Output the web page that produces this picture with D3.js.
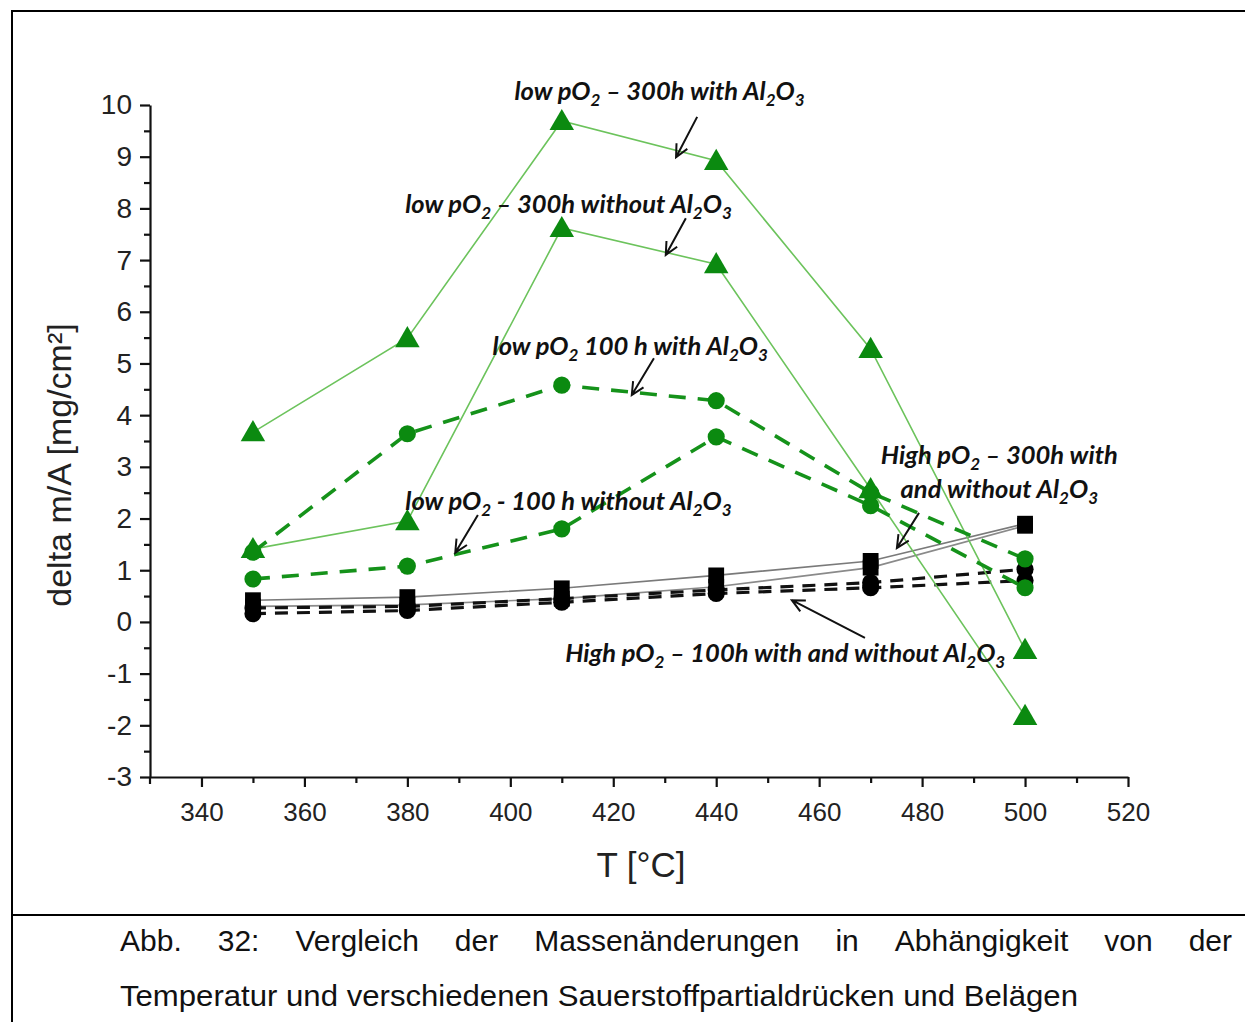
<!DOCTYPE html>
<html>
<head>
<meta charset="UTF-8">
<style>
  body { margin: 0; background: #fff; }
  svg { display: block; }
</style>
</head>
<body>
<svg></svg>
<script src="https://cdn.jsdelivr.net/npm/d3@7"></script>
<script>

let width = 1245, height = 1022;

// data
let temps = [350, 380, 410, 440, 470, 500];
let low300With     = [3.67, 5.49, 9.69, 8.92, 5.28, -0.54];
let low300Without  = [1.41, 1.95, 7.62, 6.92, 2.57, -1.82];
let low100With     = [1.35, 3.64, 4.58, 4.28, 2.50, 1.22];
let low100Without  = [0.83, 1.08, 1.80, 3.58, 2.25, 0.66];
let high300With    = [0.42, 0.48, 0.65, 0.90, 1.18, 1.90];
let high300Without = [0.30, 0.33, 0.45, 0.68, 1.05, 1.86];
let high100With    = [0.27, 0.30, 0.45, 0.62, 0.76, 1.02];
let high100Without = [0.16, 0.22, 0.38, 0.55, 0.66, 0.80];

let xTicks = [340, 360, 380, 400, 420, 440, 460, 480, 500, 520];
let yTicks = [-3, -2, -1, 0, 1, 2, 3, 4, 5, 6, 7, 8, 9, 10];

// annotations: [label lines, center T, baseline value, arrow from, arrow to]
let notes = [
  [["low pO_2 – 300h with Al_2O_3"], 429.0, 10.10, [436.3, 9.77], [432.2, 8.99]],
  [["low pO_2 – 300h without Al_2O_3"], 411.3, 7.91, [434.1, 7.81], [430.2, 7.10]],
  [["low pO_2 100 h with Al_2O_3"], 423.3, 5.16, [427.9, 5.10], [423.6, 4.39]],
  [["low pO_2 - 100 h without Al_2O_3"], 411.3, 2.16, [393.7, 2.07], [389.3, 1.34]],
  [["High pO_2 – 300h with", "and without Al_2O_3"], 495.0, 3.05, [479.4, 2.11], [475.1, 1.43]],
  [["High pO_2 – 100h with and without Al_2O_3"], 453.4, -0.78, [468.9, -0.31], [454.7, 0.42]]
];

let caption1 = "Abb. 32: Vergleich der Massenänderungen in Abhängigkeit von der";
let caption2 = "Temperatur und verschiedenen Sauerstoffpartialdrücken und Belägen";

let svg = d3.select("svg")
    .attr("width", width)
    .attr("height", height)
    .style("font-family", "'Liberation Sans', Arial, sans-serif");

svg.append("rect").attr("width", width).attr("height", height).attr("fill", "#fff");

// frame around figure + caption separator
svg.append("path")
    .attr("d", "M1245,11 L12,11 L12,1022 M12,915 L1245,915")
    .attr("fill", "none").attr("stroke", "#000").attr("stroke-width", 2);

let x = d3.scaleLinear().domain([330, 520]).range([150, 1128]);
let y = d3.scaleLinear().domain([-3, 10]).range([777, 105]);

// axes
let xAxis = svg.append("g").attr("transform", "translate(0,777)");
xAxis.call(d3.axisBottom(x).tickValues(xTicks).tickSize(10).tickPadding(16).tickSizeOuter(0));
xAxis.append("g").call(d3.axisBottom(x).tickValues(d3.range(350, 520, 20)).tickSize(6).tickFormat(""))
    .select(".domain").remove();
xAxis.selectAll("text").attr("font-size", 26).attr("fill", "#222").attr("font-family", "'Liberation Sans', Arial, sans-serif");

let yAxis = svg.append("g").attr("transform", "translate(150,0)");
yAxis.call(d3.axisLeft(y).tickValues(yTicks).tickSize(10).tickPadding(8).tickSizeOuter(0)
    .tickFormat(d => String(d)));
yAxis.append("g").call(d3.axisLeft(y).tickValues(d3.range(-2.5, 10, 1)).tickSize(6).tickFormat(""))
    .select(".domain").remove();
yAxis.selectAll("text").attr("font-size", 28).attr("fill", "#222").attr("font-family", "'Liberation Sans', Arial, sans-serif");
svg.selectAll(".domain, .tick line").attr("stroke", "#111").attr("stroke-width", 2.2);
// y axis line pokes a bit below the x axis
svg.append("line").attr("x1", 150).attr("x2", 150).attr("y1", 777).attr("y2", 784)
    .attr("stroke", "#111").attr("stroke-width", 2.2);

svg.append("text")
    .attr("transform", "translate(71,465) rotate(-90)")
    .attr("text-anchor", "middle")
    .attr("font-size", 34).attr("fill", "#222")
    .text("delta m/A [mg/cm²]");

svg.append("text")
    .attr("x", 641).attr("y", 877)
    .attr("text-anchor", "middle")
    .attr("font-size", 35).attr("fill", "#222")
    .text("T [°C]");

// series
let lineGen = d3.line().x((d, i) => x(temps[i])).y(d => y(d));
let plot = svg.append("g");

function drawLine(vals, color, w, dash) {
  plot.append("path")
      .attr("d", lineGen(vals))
      .attr("fill", "none")
      .attr("stroke", color)
      .attr("stroke-width", w)
      .attr("stroke-dasharray", dash || null);
}

function drawMarkers(vals, type, color) {
  let sym = { circle: d3.symbolCircle, square: d3.symbolSquare, triangle: d3.symbolTriangle }[type];
  let size = { circle: 230, square: 250, triangle: 260 }[type];
  plot.append("g").selectAll("path")
      .data(vals)
      .enter()
      .append("path")
      .attr("transform", (d, i) => "translate(" + x(temps[i]) + "," + (y(d) + (type == "triangle" ? 2 : 0)) + ")")
      .attr("d", d3.symbol().type(sym).size(size))
      .attr("fill", color);
}

// high pO2 (black)
drawLine(high300With, "#7a7a7a", 1.6);
drawLine(high300Without, "#8a8a8a", 1.6);
drawLine(high100With, "#111", 3.2, "13,9");
drawLine(high100Without, "#111", 3.2, "13,9");
drawMarkers(high100Without, "circle", "#000");
drawMarkers(high100With, "circle", "#000");
drawMarkers(high300Without, "square", "#000");
drawMarkers(high300With, "square", "#000");

// low pO2 (green)
drawLine(low300With, "#6cc35c", 1.6);
drawLine(low300Without, "#6cc35c", 1.6);
drawLine(low100With, "#15921a", 3.6, "17,12");
drawLine(low100Without, "#15921a", 3.6, "17,12");
drawMarkers(low100With, "circle", "#0b8a10");
drawMarkers(low100Without, "circle", "#0b8a10");
drawMarkers(low300Without, "triangle", "#0b8a10");
drawMarkers(low300With, "triangle", "#0b8a10");

// annotations
let ann = svg.append("g")
    .attr("font-family", "Lato, 'Open Sans', sans-serif")
    .attr("font-style", "italic")
    .attr("font-weight", 700)
    .attr("font-size", 25.5)
    .attr("fill", "#111");

notes.forEach(n => {
  n[0].forEach((line, li) => {
    let t = ann.append("text")
        .attr("x", x(n[1]))
        .attr("y", y(n[2]) + li * 34)
        .attr("text-anchor", "middle");
    line.split(/_(\d)/).forEach((part, k) => {
      if (part == "") return;
      if (k % 2 == 1) {
        t.append("tspan").attr("font-size", 17).attr("dy", 6).text(part);
      } else {
        let s = t.append("tspan").text(part);
        if (k > 0) s.attr("dy", -6);
      }
    });
  });
  // arrow
  let x1 = x(n[3][0]), y1 = y(n[3][1]), x2 = x(n[4][0]), y2 = y(n[4][1]);
  let a = Math.atan2(y2 - y1, x2 - x1), L = 14, s = 0.45;
  ann.append("path")
      .attr("d", "M" + x1 + "," + y1 + " L" + x2 + "," + y2 +
        " M" + (x2 - L * Math.cos(a - s)) + "," + (y2 - L * Math.sin(a - s)) +
        " L" + x2 + "," + y2 +
        " L" + (x2 - L * Math.cos(a + s)) + "," + (y2 - L * Math.sin(a + s)))
      .attr("fill", "none").attr("stroke", "#111").attr("stroke-width", 2);
});

// caption, first line justified over the full width
let capFont = 30;
let words = caption1.split(" ");
let cap = svg.append("g").attr("font-size", capFont).attr("fill", "#111");
let wnodes = words.map(w => cap.append("text").attr("y", 951).text(w));
let widths = wnodes.map(t => t.node().getComputedTextLength());
let left = 120, right = 1232;
let gap = (right - left - d3.sum(widths)) / (words.length - 1);
let cx = left;
wnodes.forEach((t, i) => { t.attr("x", cx); cx += widths[i] + gap; });
cap.append("text").attr("x", 120).attr("y", 1006)
    .attr("textLength", 958).attr("lengthAdjust", "spacingAndGlyphs")
    .text(caption2);

</script>
</body>
</html>
